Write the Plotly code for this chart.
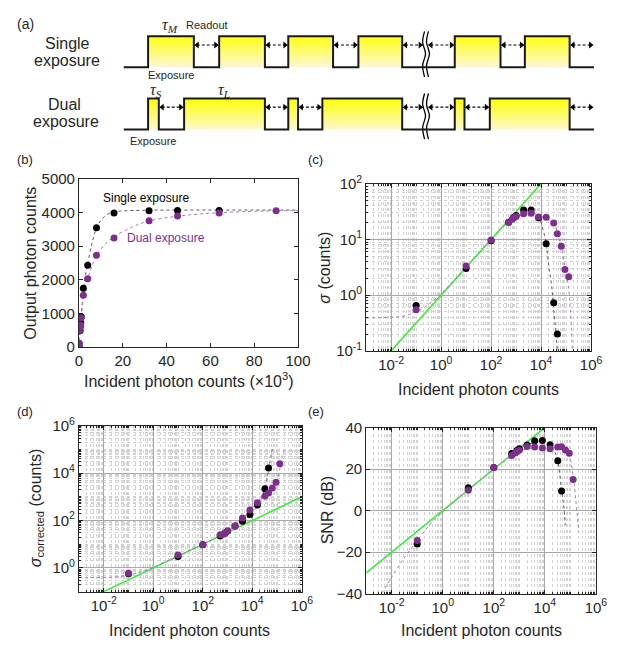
import plotly.graph_objects as go

# ---------------- data ----------------
# incident photon counts
x_single = [0.1, 10, 100, 500, 800, 1000, 2000, 4000, 8000, 16000, 32000, 45000, 64000]
x_dual = [0.1, 10, 100, 500, 700, 800, 1000, 2000, 4000, 8000, 16000, 32000, 45000, 64000, 90000, 128000]

# (b) output photon counts
out_single = [0.1, 10, 100, 480, 720, 900, 1750, 2430, 3545, 3990, 4055, 4060, 4060]
out_dual = [0.1, 10, 100, 483, 600, 656, 867, 1540, 2030, 2730, 3245, 3755, 3900, 3990, 4055, None]

# (c) sigma (counts)
sigma_single = [0.65, 3.0, 9.5, 20.5, 25, 27, 34, 34, 24.5, 8.4, 0.73, 0.2, None]
sigma_dual = [0.55, 3.35, 9.8, 20.4, 23, 24.6, 26, 29, 29.5, 25.5, 25, 19.8, 12.7, 7.6, 2.9, 2.15]

# (d) corrected sigma (counts)
sigcorr_single = [0.57, 3.0, 9.6, 22, 30, 36, 58, 92, 178, 445, 2200, 16500, None]
sigcorr_dual = [0.6, 3.5, 9.8, 25, 27, 29, 36, 59, 126, 277, 565, 1070, 1450, 2340, 4100, 24600]

# (e) SNR (dB)
snr_single = [-16.1, 11.0, 20.8, 27.5, 29.0, 29.8, 31.6, 33.6, 33.8, 31.7, 24.0, 9.4, None]
snr_dual = [-14.4, 9.8, 20.8, 26.5, 27.8, 28.5, 29.1, 30.9, 30.6, 30.1, 29.8, 30.6, 30.8, 29.2, 27.6, 15.0]

# fitted (dotted) curves
fit_b_single_x = [0, 0.3, 0.6, 1, 1.5, 2, 3, 4, 6, 8, 10, 13, 16, 20, 30, 50, 100]
fit_b_single_y = [0, 320, 600, 900, 1300, 1680, 2150, 2480, 3100, 3540, 3770, 3950, 4020, 4050, 4070, 4075, 4075]
fit_b_dual_x = [0, 0.3, 0.6, 1, 2, 3, 4, 6, 8, 12, 16, 24, 32, 46, 65, 92, 100]
fit_b_dual_y = [0, 300, 560, 850, 1500, 1800, 2030, 2420, 2720, 3060, 3280, 3560, 3750, 3900, 4000, 4055, 4060]

fit_c_single_x = [1000, 2000, 4000, 8000, 12000, 16000, 20000, 26000, 30000, 37000, 45000]
fit_c_single_y = [27, 31, 32, 25, 15, 8.4, 3.5, 1.6, 0.8, 0.28, 0.1]
fit_c_dual_x = [1e-3, 1e-2, 0.03, 0.1, 0.3, 1, 3, 10, 30, 100, 300, 1000, 2000, 4000, 8000, 16000, 32000, 45000, 64000, 90000, 120000, 150000, 178000]
fit_c_dual_y = [0.39, 0.40, 0.42, 0.50, 0.67, 1.07, 1.77, 3.2, 5.5, 10, 17, 25, 28, 29, 27, 24, 19.5, 13, 7.5, 3.0, 1.6, 0.5, 0.1]

fit_d_single_x = [4000, 8000, 16000, 24000, 32000, 40000, 48000, 56000, 65000]
fit_d_single_y = [90, 175, 440, 950, 2200, 6500, 20000, 50000, 120000]
fit_d_dual_x = [1e-3, 1e-2, 0.03, 0.1, 0.3, 1, 3, 10, 100, 1000, 4000, 8000, 16000, 32000, 64000, 96000, 128000, 160000, 200000]
fit_d_dual_y = [0.39, 0.40, 0.42, 0.50, 0.67, 1.07, 1.77, 3.2, 10, 35, 120, 270, 560, 1080, 2400, 4500, 15000, 50000, 117000]

fit_e_single_x = [1000, 2000, 4000, 8000, 16000, 24000, 32000, 45000, 55000, 63000]
fit_e_single_y = [29.5, 31.5, 33, 33.2, 31.5, 28.5, 24, 10, 2, -7]
fit_e_dual_x = [0.004, 0.01, 0.03, 0.1, 0.3, 1, 3, 10, 100, 1000, 2000, 4000, 8000, 16000, 32000, 45000, 64000, 90000, 128000, 160000, 214000]
fit_e_dual_y = [-40, -32, -23, -14.5, -7, -0.6, 4.5, 9.9, 20, 28.5, 29.8, 30.2, 30.2, 30.2, 30.3, 30, 29, 26.5, 17, 6, -10.5]

# shot-noise reference lines (green)
green_c_x, green_c_y = [0.01, 1e4], [0.1, 100]
green_d_x, green_d_y = [0.01, 1e6], [0.1, 1000]
green_e_x, green_e_y = [1e-3, 1e4], [-30, 40]

# tick labels
log_ticks_x = [1e-2, 1, 1e2, 1e4, 1e6]
log_text_x = ["10<sup>-2</sup>", "10<sup>0</sup>", "10<sup>2</sup>", "10<sup>4</sup>", "10<sup>6</sup>"]
log_ticks_c = [0.1, 1, 10, 100]
log_text_c = ["10<sup>-1</sup>", "10<sup>0</sup>", "10<sup>1</sup>", "10<sup>2</sup>"]
log_ticks_d = [1, 1e2, 1e4, 1e6]
log_text_d = ["10<sup>0</sup>", "10<sup>2</sup>", "10<sup>4</sup>", "10<sup>6</sup>"]

# timing diagram (panel a) geometry, in pixels
single_pulses = [(148, 195), (221, 268), (292, 338), (364, 409), (463, 510), (535, 581)]
dual_pulses = [(148, 159), (185, 268), (292, 302), (327, 409), (463, 473), (499, 581)]
single_arrows = [(195, 221), (268, 292), (338, 364), (409, 431), (435, 463), (510, 535), (581, 606)]
dual_arrows = [(159, 185), (268, 292), (302, 327), (409, 431), (435, 463), (473, 499), (581, 606)]

# ---------------- figure ----------------
W, H = 643, 655
FONT = "Liberation Sans, Arial, sans-serif"
TXT = "#262626"
PURPLE = "#7E2F8E"
GREEN = "#33ee33"
FIT_K = "#5a5a5a"
FIT_P = "#a878b4"


def dx(l, r):
    return [l / W, r / W]


def dy(t, b):
    return [1 - b / H, 1 - t / H]


fig = go.Figure()


# ---- panel (a) : pixel-space overlay axes ----
def diagram(pulses, base, top, arrows, ay):
    for (x0, x1) in pulses:
        fig.add_trace(go.Scatter(
            x=[x0, x0, x1, x1, x0], y=[base, top, top, base, base],
            fill="toself", mode="none",
            fillgradient=dict(type="vertical", start=top, stop=base,
                              colorscale=[[0, "#ffff14"], [0.45, "#fffb70"], [1, "#fff6e2"]]),
            xaxis="x5", yaxis="y5", showlegend=False, hoverinfo="skip"))
    wx, wy = [123], [base]
    for (x0, x1) in pulses:
        wx += [x0, x0, x1, x1]
        wy += [base, top, top, base]
    wx.append(606)
    wy.append(base)
    fig.add_trace(go.Scatter(x=wx, y=wy, mode="lines",
                             line=dict(color="#1a1a1a", width=2),
                             xaxis="x5", yaxis="y5", showlegend=False, hoverinfo="skip"))
    lx, ly = [], []
    for (a, b) in arrows:
        lx += [a + 3, b - 3, None]
        ly += [ay, ay, None]
    fig.add_trace(go.Scatter(x=lx, y=ly, mode="lines",
                             line=dict(color="black", width=1.2, dash="3px,2px"),
                             xaxis="x5", yaxis="y5", showlegend=False, hoverinfo="skip"))
    fig.add_trace(go.Scatter(x=[a + 3.5 for a, b in arrows], y=[ay] * len(arrows),
                             mode="markers", marker=dict(symbol="triangle-left", size=6, color="black"),
                             xaxis="x5", yaxis="y5", showlegend=False, hoverinfo="skip"))
    fig.add_trace(go.Scatter(x=[b - 3.5 for a, b in arrows], y=[ay] * len(arrows),
                             mode="markers", marker=dict(symbol="triangle-right", size=6, color="black"),
                             xaxis="x5", yaxis="y5", showlegend=False, hoverinfo="skip"))
    # break symbol
    for off in (0, 4):
        fig.add_trace(go.Scatter(
            x=[432 + off, 430 + off, 433 + off, 430 + off, 432 + off],
            y=[top - 5, top + 6, top + 18, top + 30, top + 42],
            mode="lines", line=dict(color="black", width=1.3, shape="spline"),
            xaxis="x5", yaxis="y5", showlegend=False, hoverinfo="skip"))


diagram(single_pulses, 58, 26, single_arrows, 35)
diagram(dual_pulses, 122, 90, dual_arrows, 99)

# ---- panel (b) ----
fig.add_trace(go.Scatter(x=fit_b_single_x, y=fit_b_single_y, mode="lines",
                         line=dict(color=FIT_K, width=1, dash="dot", shape="spline"),
                         xaxis="x", yaxis="y", showlegend=False))
fig.add_trace(go.Scatter(x=fit_b_dual_x, y=fit_b_dual_y, mode="lines",
                         line=dict(color=FIT_P, width=1, dash="dot", shape="spline"),
                         xaxis="x", yaxis="y", showlegend=False))
fig.add_trace(go.Scatter(x=[v / 1000 for v in x_single], y=out_single, mode="markers",
                         marker=dict(color="black", size=7), xaxis="x", yaxis="y", showlegend=False))
fig.add_trace(go.Scatter(x=[v / 1000 for v in x_dual], y=out_dual, mode="markers",
                         marker=dict(color=PURPLE, size=7), xaxis="x", yaxis="y", showlegend=False))


# ---- panels (c), (d), (e) ----
def log_panel(xa, ya, fsx, fsy, fdx, fdy, gx, gy, ys, yd):
    fig.add_trace(go.Scatter(x=gx, y=gy, mode="lines", line=dict(color=GREEN, width=1.5),
                             xaxis=xa, yaxis=ya, showlegend=False))
    fig.add_trace(go.Scatter(x=fsx, y=fsy, mode="lines",
                             line=dict(color=FIT_K, width=1, dash="dot", shape="spline"),
                             xaxis=xa, yaxis=ya, showlegend=False))
    fig.add_trace(go.Scatter(x=fdx, y=fdy, mode="lines",
                             line=dict(color=FIT_P, width=1, dash="dot", shape="spline"),
                             xaxis=xa, yaxis=ya, showlegend=False))
    fig.add_trace(go.Scatter(x=x_single, y=ys, mode="markers", marker=dict(color="black", size=7),
                             xaxis=xa, yaxis=ya, showlegend=False))
    fig.add_trace(go.Scatter(x=x_dual, y=yd, mode="markers", marker=dict(color=PURPLE, size=7),
                             xaxis=xa, yaxis=ya, showlegend=False))


log_panel("x2", "y2", fit_c_single_x, fit_c_single_y, fit_c_dual_x, fit_c_dual_y,
          green_c_x, green_c_y, sigma_single, sigma_dual)
log_panel("x3", "y3", fit_d_single_x, fit_d_single_y, fit_d_dual_x, fit_d_dual_y,
          green_d_x, green_d_y, sigcorr_single, sigcorr_dual)
log_panel("x4", "y4", fit_e_single_x, fit_e_single_y, fit_e_dual_x, fit_e_dual_y,
          green_e_x, green_e_y, snr_single, snr_dual)

# ---------------- axes ----------------
base_ax = dict(showline=True, linecolor=TXT, linewidth=1, mirror="ticks", ticks="inside",
               ticklen=4, tickcolor=TXT, tickfont=dict(size=15, color=TXT, family=FONT),
               zeroline=False, showgrid=False, fixedrange=True)

minor_x = [k * 10 ** e for e in range(-3, 6) for k in range(1, 10)
           if not (k == 1 and e % 2 == 0)]
minor_y_c = [k * 10 ** e for e in range(-1, 2) for k in range(2, 10)]
minor_y_d = [k * 10 ** e for e in range(-1, 6) for k in range(1, 10)
             if not (k == 1 and e % 2 == 0)]


def minor(vals):
    return dict(tickvals=vals, ticks="inside", ticklen=2, tickcolor=TXT,
                showgrid=True, gridcolor="#d2d2d2", griddash="dot", gridwidth=1)


grid_major = dict(showgrid=True, gridcolor="#a8a8a8", gridwidth=1)

logx = dict(base_ax, type="log", range=[-3, 6], tickvals=log_ticks_x, ticktext=log_text_x,
            minor=minor(minor_x), **grid_major)

fig.update_layout(
    width=W, height=H, margin=dict(l=0, r=0, t=0, b=0), autosize=False,
    paper_bgcolor="white", plot_bgcolor="rgba(0,0,0,0)",
    font=dict(family=FONT, color=TXT),
    showlegend=False,
    xaxis=dict(base_ax, domain=dx(77, 302), range=[0, 100], tickvals=[0, 20, 40, 60, 80, 100],
               anchor="y"),
    yaxis=dict(base_ax, domain=dy(173, 346), range=[0, 5000],
               tickvals=[0, 1000, 2000, 3000, 4000, 5000], anchor="x"),
    xaxis2=dict(logx, domain=dx(372, 603), anchor="y2"),
    yaxis2=dict(base_ax, type="log", range=[-1, 2], tickvals=log_ticks_c, ticktext=log_text_c,
                domain=dy(178, 350), anchor="x2", minor=minor(minor_y_c), **grid_major),
    xaxis3=dict(logx, domain=dx(77, 306), anchor="y3"),
    yaxis3=dict(base_ax, type="log", range=[-1, 6], tickvals=log_ticks_d, ticktext=log_text_d,
                domain=dy(427, 598), anchor="x3", minor=minor(minor_y_d), **grid_major),
    xaxis4=dict(logx, domain=dx(372, 608), anchor="y4"),
    yaxis4=dict(base_ax, range=[-40, 40], tickvals=[-40, -20, 0, 20, 40],
                domain=dy(429, 600), anchor="x4", **grid_major),
    xaxis5=dict(domain=[0, 1], range=[0, W], visible=False, fixedrange=True, anchor="y5"),
    yaxis5=dict(domain=[0, 1], range=[H, 0], visible=False, fixedrange=True, anchor="x5"),
)

# ---------------- text ----------------
ann = []


def A(px, py, text, size=15, color=TXT, angle=0, family=FONT, xanchor="center"):
    ann.append(dict(x=px / W, y=1 - py / H, xref="paper", yref="paper", text=text,
                    showarrow=False, textangle=angle, xanchor=xanchor, yanchor="middle",
                    font=dict(size=size, color=color, family=family)))


SERIF = "Liberation Serif, Times New Roman, serif"
A(22, 13, "(a)", 14)
A(65, 33, "Single", 16)
A(65, 51, "exposure", 16)
A(62, 96, "Dual", 16)
A(64, 114, "exposure", 16)
A(171, 15, "<i>τ</i><sub><i>M</i></sub>", 16, family=SERIF)
A(209, 14, "Readout", 11)
A(172, 66, "Exposure", 11)
A(156, 82, "<i>τ</i><sub><i>S</i></sub>", 16, family=SERIF)
A(226, 82, "<i>τ</i><sub><i>L</i></sub>", 16, family=SERIF)
A(153, 134, "Exposure", 11)

A(22, 153, "(b)", 13)
A(320, 153, "(c)", 13)
A(22, 412, "(d)", 13)
A(320, 412, "(e)", 13)

A(146, 193, "Single exposure", 12, "black")
A(166, 234, "Dual exposure", 12, PURPLE)

A(27, 260, "Output photon counts", 16, angle=-90)
A(190, 380, "Incident photon counts (×10<sup>3</sup>)", 16)
A(329, 264, "<i>σ</i> (counts)", 16, angle=-90)
A(487, 390, "Incident photon counts", 16)
A(33, 512, "<i>σ</i><sub>corrected</sub> (counts)", 16, angle=-90)
A(191, 638, "Incident photon counts", 16)
A(332, 514, "SNR (dB)", 16, angle=-90)
A(490, 638, "Incident photon counts", 16)

fig.update_layout(annotations=ann)

fig.write_html(
    "out.html",
    config={"responsive": False},
    post_script="document.documentElement.style.margin='0';document.body.style.margin='0';"
                "document.body.style.padding='0';document.body.style.overflow='hidden';",
)
